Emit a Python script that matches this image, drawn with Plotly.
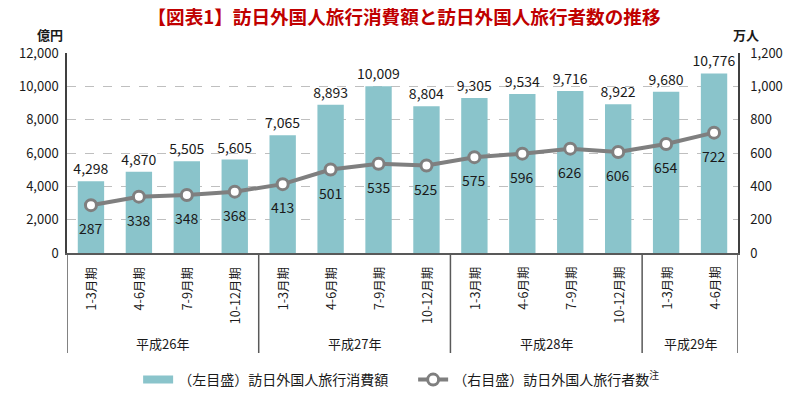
import plotly.graph_objects as go

periods = ["1-3月期", "4-6月期", "7-9月期", "10-12月期",
           "1-3月期", "4-6月期", "7-9月期", "10-12月期",
           "1-3月期", "4-6月期", "7-9月期", "10-12月期",
           "1-3月期", "4-6月期"]
years = ["平成26年", "平成27年", "平成28年", "平成29年"]
year_sizes = [4, 4, 4, 2]
spending = [4298, 4870, 5505, 5605, 7065, 8893, 10009, 8804, 9305, 9534, 9716, 8922, 9680, 10776]
visitors = [287, 338, 348, 368, 413, 501, 535, 525, 575, 596, 626, 606, 654, 722]

FONT = "Noto Sans CJK JP"
BAR_COLOR = "#8AC4CB"
LINE_COLOR = "#7F7F7F"
xs = list(range(len(periods)))

fig = go.Figure()
fig.add_trace(go.Bar(
    x=xs, y=spending, name="（左目盛）訪日外国人旅行消費額", showlegend=False,
    marker=dict(color=BAR_COLOR, line=dict(width=0)), width=0.55,
    text=[f"{v:,}" for v in spending], textposition="outside", constraintext="none",
    textfont=dict(size=14, color="#1a1a1a", family=FONT), cliponaxis=False,
))
# legend proxy for the bar series (wide flat swatch as in the reference)
fig.add_trace(go.Scatter(
    x=[None], y=[None], mode="lines", name="（左目盛）訪日外国人旅行消費額",
    line=dict(color=BAR_COLOR, width=8),
))
fig.add_trace(go.Scatter(
    x=xs, y=visitors, yaxis="y2", name="（右目盛）訪日外国人旅行者数<sup>注</sup>",
    mode="lines+markers",
    line=dict(color=LINE_COLOR, width=4),
    marker=dict(symbol="circle", size=11, color="white", line=dict(color=LINE_COLOR, width=3)),
    cliponaxis=False,
))

# line value labels below each point
for i, v in enumerate(visitors):
    fig.add_annotation(x=i, y=v, xref="x", yref="y2", text=str(v), showarrow=False,
                       yshift=-23, xanchor="center", yanchor="middle",
                       font=dict(size=14, color="#1a1a1a", family=FONT))

# category labels (rotated)
for i, p in enumerate(periods):
    fig.add_annotation(x=i, y=-0.06, xref="x", yref="paper", text=p, textangle=-90,
                       showarrow=False, xanchor="center", yanchor="top",
                       font=dict(size=12.5, color="#1a1a1a", family=FONT))

# year groups and dividers
start = -0.5
bounds = [start]
for yname, n in zip(years, year_sizes):
    center = start + n / 2
    fig.add_annotation(x=center, y=-0.45, xref="x", yref="paper", text=yname,
                       showarrow=False, xanchor="center", yanchor="middle",
                       font=dict(size=13, color="#1a1a1a", family=FONT))
    start += n
    bounds.append(start)
for b in bounds:
    fig.add_shape(type="line", x0=b, x1=b, y0=0, y1=-0.5, xref="x", yref="paper",
                  line=dict(color="#595959", width=1.5))

fig.add_annotation(x=-0.025, y=1.09, xref="paper", yref="paper", text="<b>億円</b>",
                   showarrow=False, xanchor="center", yanchor="middle",
                   font=dict(size=13, color="#1a1a1a", family=FONT))
fig.add_annotation(x=1.012, y=1.09, xref="paper", yref="paper", text="<b>万人</b>",
                   showarrow=False, xanchor="center", yanchor="middle",
                   font=dict(size=13, color="#1a1a1a", family=FONT))

fig.update_layout(
    width=800, height=394,
    margin=dict(l=67, r=62, t=53, b=141, autoexpand=False),
    paper_bgcolor="white", plot_bgcolor="white",
    font=dict(family=FONT, color="#1a1a1a"),
    title=dict(text="<b>【図表1】訪日外国人旅行消費額と訪日外国人旅行者数の推移</b>",
               x=0.505, xanchor="center", y=0.955, yanchor="middle",
               font=dict(size=18.6, color="#C00000", family=FONT)),
    xaxis=dict(range=[-0.5, len(periods) - 0.5], showticklabels=False, ticks="",
               showgrid=False, zeroline=False, showline=True, linecolor="#595959", linewidth=1.5),
    yaxis=dict(range=[0, 12000], dtick=2000, tickformat=",", showgrid=True,
               gridcolor="#BFBFBF", griddash="dash", gridwidth=1, zeroline=False,
               showline=True, linecolor="#404040", linewidth=1.5, ticks="",
               tickfont=dict(size=13, family=FONT, color="#1a1a1a"), ticklabelstandoff=4),
    yaxis2=dict(range=[0, 1200], dtick=200, tickformat=",", overlaying="y", side="right",
                showgrid=False, zeroline=False, showline=True, linecolor="#404040",
                linewidth=1.5, ticks="", tickfont=dict(size=13, family=FONT, color="#1a1a1a"),
                ticklabelstandoff=8),
    showlegend=True,
    legend=dict(orientation="h", x=0.106, xanchor="left", y=-0.635, yanchor="middle",
                font=dict(size=14, family=FONT, color="#1a1a1a"), itemwidth=30,
                entrywidth=230, entrywidthmode="pixels", traceorder="normal"),
    bargap=0.45,
)

fig.write_html("out.html", config={"displayModeBar": False},
               post_script="document.body.style.margin='0';document.body.style.overflow='hidden';")
